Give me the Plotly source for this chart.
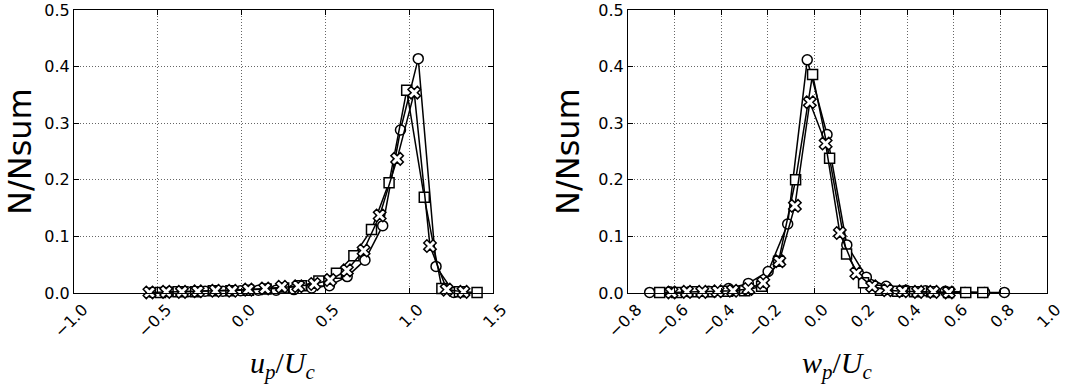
import plotly.graph_objects as go

# ---- Left panel: u_p / U_c ----
u_circ_x = [-0.536, -0.430, -0.324, -0.218, -0.112, -0.006, 0.100, 0.206, 0.312, 0.418,
            0.524, 0.630, 0.736, 0.842, 0.948, 1.054, 1.160, 1.266]
u_circ_y = [0.001, 0.002, 0.002, 0.003, 0.003, 0.004, 0.005, 0.005, 0.006, 0.009,
            0.013, 0.029, 0.058, 0.119, 0.288, 0.414, 0.047, 0.001]

u_sq_x = [-0.484, -0.379, -0.274, -0.169, -0.064, 0.041, 0.146, 0.251, 0.356, 0.461,
          0.566, 0.670, 0.775, 0.880, 0.985, 1.090, 1.195, 1.300, 1.405]
u_sq_y = [0.001, 0.002, 0.002, 0.004, 0.004, 0.005, 0.007, 0.009, 0.013, 0.021,
          0.035, 0.066, 0.112, 0.195, 0.358, 0.169, 0.008, 0.002, 0.001]

u_x_x = [-0.550, -0.450, -0.356, -0.262, -0.156, -0.056, 0.040, 0.140, 0.240, 0.338,
         0.434, 0.528, 0.628, 0.728, 0.824, 0.928, 1.030, 1.124, 1.224, 1.324]
u_x_y = [0.001, 0.002, 0.002, 0.003, 0.004, 0.004, 0.006, 0.008, 0.011, 0.012,
         0.016, 0.023, 0.040, 0.075, 0.137, 0.237, 0.354, 0.083, 0.006, 0.002]

# ---- Right panel: w_p / U_c ----
w_circ_x = [-0.707, -0.622, -0.537, -0.453, -0.368, -0.283, -0.198, -0.114, -0.030, 0.055,
            0.140, 0.224, 0.309, 0.394, 0.478, 0.563, 0.648, 0.732, 0.817]
w_circ_y = [0.001, 0.002, 0.002, 0.003, 0.008, 0.017, 0.038, 0.122, 0.412, 0.280,
            0.085, 0.028, 0.012, 0.005, 0.004, 0.003, 0.001, 0.001, 0.001]

w_sq_x = [-0.664, -0.591, -0.518, -0.445, -0.372, -0.299, -0.226, -0.153, -0.080, -0.007,
          0.066, 0.139, 0.212, 0.285, 0.358, 0.431, 0.504, 0.577, 0.651, 0.724]
w_sq_y = [0.001, 0.001, 0.002, 0.002, 0.003, 0.004, 0.012, 0.056, 0.200, 0.386,
          0.238, 0.069, 0.018, 0.005, 0.003, 0.002, 0.002, 0.001, 0.001, 0.001]

w_x_x = [-0.613, -0.547, -0.481, -0.415, -0.349, -0.283, -0.219, -0.150, -0.083, -0.019,
         0.049, 0.110, 0.181, 0.249, 0.314, 0.380, 0.446, 0.512, 0.578]
w_x_y = [0.001, 0.002, 0.002, 0.003, 0.004, 0.007, 0.018, 0.056, 0.154, 0.337,
         0.264, 0.106, 0.035, 0.012, 0.005, 0.003, 0.002, 0.002, 0.001]

# tick labels
u_ticks = [-1.0, -0.5, 0.0, 0.5, 1.0, 1.5]
w_ticks = [-0.8, -0.6, -0.4, -0.2, 0.0, 0.2, 0.4, 0.6, 0.8, 1.0]
y_ticks = [0.0, 0.1, 0.2, 0.3, 0.4, 0.5]

W, H = 1075, 390
fig = go.Figure()

def add_series(x, y, symbol, size, xa, ya):
    fig.add_trace(go.Scatter(
        x=x, y=y, mode="lines+markers", xaxis=xa, yaxis=ya,
        line=dict(color="black", width=1.5),
        marker=dict(symbol=symbol, size=size, color="white",
                    line=dict(color="black", width=1.5)),
        showlegend=False, cliponaxis=False))

for xa, ya, data in [("x", "y", [(u_circ_x, u_circ_y), (u_sq_x, u_sq_y), (u_x_x, u_x_y)]),
                     ("x2", "y2", [(w_circ_x, w_circ_y), (w_sq_x, w_sq_y), (w_x_x, w_x_y)])]:
    add_series(*data[0], "circle", 10, xa, ya)
    add_series(*data[1], "square", 10, xa, ya)
    add_series(*data[2], "x", 11, xa, ya)

tickfont = dict(family="DejaVu Sans", size=16, color="black")
common = dict(showline=True, linecolor="black", linewidth=1, mirror="allticks",
              ticks="inside", ticklen=5, tickcolor="black", tickwidth=1,
              showgrid=True, gridcolor="#666", griddash="1px,2px", gridwidth=1,
              zeroline=False, tickfont=tickfont, tickformat=".1f", automargin=False)

y0, y1 = 10, 293
fig.update_layout(
    width=W, height=H, margin=dict(l=0, r=0, t=0, b=0, pad=0),
    paper_bgcolor="white", plot_bgcolor="white",
    xaxis=dict(domain=[74 / W, 493 / W], range=[-1.0, 1.5], tickvals=u_ticks,
               tickangle=-45, anchor="y", ticklabelshift=9, **common),
    yaxis=dict(domain=[1 - y1 / H, 1 - y0 / H], range=[0, 0.5], tickvals=y_ticks,
               anchor="x", **common),
    xaxis2=dict(domain=[628 / W, 1047 / W], range=[-0.8, 1.0], tickvals=w_ticks,
                tickangle=-45, anchor="y2", ticklabelshift=9, **common),
    yaxis2=dict(domain=[1 - y1 / H, 1 - y0 / H], range=[0, 0.5], tickvals=y_ticks,
                anchor="x2", **common),
)

ylab_font = dict(family="DejaVu Sans", size=32, color="black")
xlab_font = dict(family="Liberation Serif", size=30, color="black")
ann = []
for px in (20, 568):
    ann.append(dict(text="N/Nsum", x=px / W, y=1 - 152 / H, xref="paper", yref="paper",
                    textangle=-90, showarrow=False, font=ylab_font,
                    xanchor="center", yanchor="middle"))
ann.append(dict(text="<i>u</i><sub><i>p</i></sub>/<i>U</i><sub><i>c</i></sub>",
                x=283 / W, y=1 - 365 / H, xref="paper", yref="paper", showarrow=False,
                font=xlab_font, xanchor="center", yanchor="middle"))
ann.append(dict(text="<i>w</i><sub><i>p</i></sub>/<i>U</i><sub><i>c</i></sub>",
                x=837 / W, y=1 - 365 / H, xref="paper", yref="paper", showarrow=False,
                font=xlab_font, xanchor="center", yanchor="middle"))
fig.update_layout(annotations=ann)

fig.write_html("out.html")
